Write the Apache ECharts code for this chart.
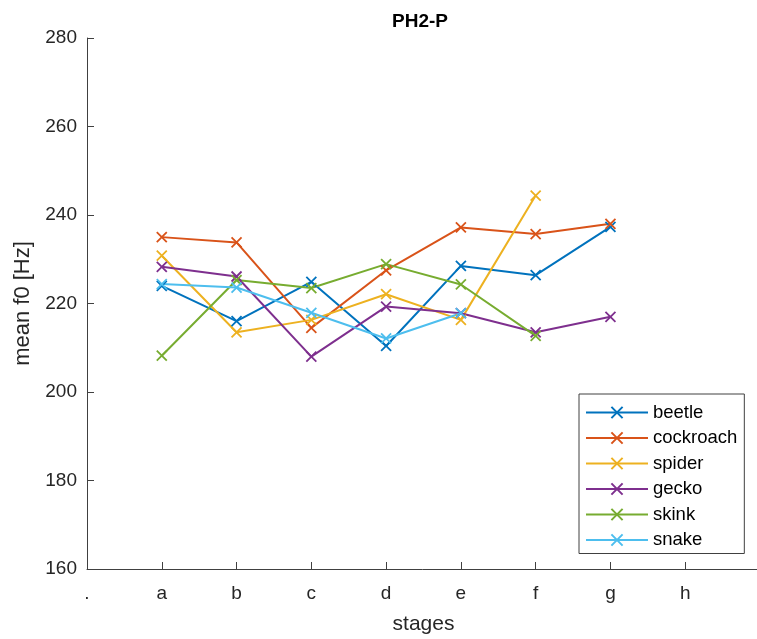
<!DOCTYPE html>
<html><head><meta charset="utf-8">
<script src="https://cdn.jsdelivr.net/npm/echarts@6/dist/echarts.min.js"></script>
<style>html,body{margin:0;padding:0;background:#fff}#c{width:757px;height:639px}</style>
</head><body><div id="c"></div>
<script>
const tickLabels = ['.', 'a', 'b', 'c', 'd', 'e', 'f', 'g', 'h'];
const seriesNames = ['beetle', 'cockroach', 'spider', 'gecko', 'skink', 'snake'];
const beetle    = [224.0, 216.0, 224.9, 210.4, 228.5, 226.4, 237.3];
const cockroach = [235.0, 233.8, 214.5, 227.5, 237.2, 235.7, 238.0];
const spider    = [230.8, 213.5, 216.3, 222.1, 216.3, 244.4];
const gecko     = [228.3, 226.1, 208.0, 219.3, 217.8, 213.5, 217.0];
const skink     = [208.2, 225.3, 223.5, 228.9, 224.3, 212.7];
const snake     = [224.4, 223.6, 217.9, 212.1, 217.8];
const colors = ['#0072BD', '#D95319', '#EDB120', '#7E2F8E', '#77AC30', '#4DBEEE'];
const allData = [beetle, cockroach, spider, gecko, skink, snake];

const xSym = 'path://M0,0L10,10M10,0L0,10';
const series = allData.map((d, i) => ({
  name: seriesNames[i],
  type: 'line',
  data: d.map((v, k) => [k + 1, v]),
  symbol: xSym,
  symbolSize: 10,
  showAllSymbol: true,
  lineStyle: { color: colors[i], width: 2 },
  itemStyle: { color: colors[i], borderColor: colors[i], borderWidth: 1.8 },
  emphasis: { disabled: true },
  animation: false
}));

const chart = echarts.init(document.getElementById('c'));
const axisCol = '#404040';
const txtCol = '#262626';
const font = 'Liberation Sans, Arial, Helvetica, sans-serif';
chart.setOption({
  backgroundColor: '#fff',
  color: colors,
  title: { text: 'PH2-P', left: 415, textAlign: 'center', top: 7,
    textStyle: { fontFamily: font, fontSize: 19, fontWeight: 'bold', color: '#000' } },
  grid: { left: 87, top: 38, bottom: 70, width: 673, containLabel: false, outerBoundsMode: 'none' },
  xAxis: {
    type: 'value', min: 0, max: 9, interval: 1,
    name: 'stages', nameLocation: 'middle', nameGap: 45,
    nameTextStyle: { fontFamily: font, fontSize: 21, color: txtCol },
    axisLine: { show: true, lineStyle: { color: axisCol, width: 1 } },
    axisTick: { show: true, inside: true, length: 7, lineStyle: { color: axisCol } },
    axisLabel: { fontFamily: font, fontSize: 19, color: txtCol, margin: 15,
      formatter: v => (tickLabels[v] !== undefined ? tickLabels[v] : '') },
    splitLine: { show: false }
  },
  yAxis: {
    type: 'value', min: 160, max: 280, interval: 20,
    name: 'mean f0 [Hz]', nameLocation: 'middle', nameGap: 47, nameRotate: 90,
    nameTextStyle: { fontFamily: font, fontSize: 22, color: txtCol },
    axisLine: { show: true, lineStyle: { color: axisCol, width: 1 } },
    axisTick: { show: true, inside: true, length: 7, lineStyle: { color: axisCol } },
    axisLabel: { fontFamily: font, fontSize: 19, color: txtCol, margin: 10 },
    splitLine: { show: false }
  },
  legend: {
    orient: 'vertical', left: 579, top: 394,
    data: seriesNames,
    backgroundColor: '#fff', borderColor: axisCol, borderWidth: 1,
    padding: [9, 7, 4, 6], itemGap: 6.5, itemWidth: 62, itemHeight: 14,
    textStyle: { fontFamily: font, fontSize: 18.5, lineHeight: 19, color: '#000' },
    selectedMode: false
  },
  series: series
});
</script></body></html>
